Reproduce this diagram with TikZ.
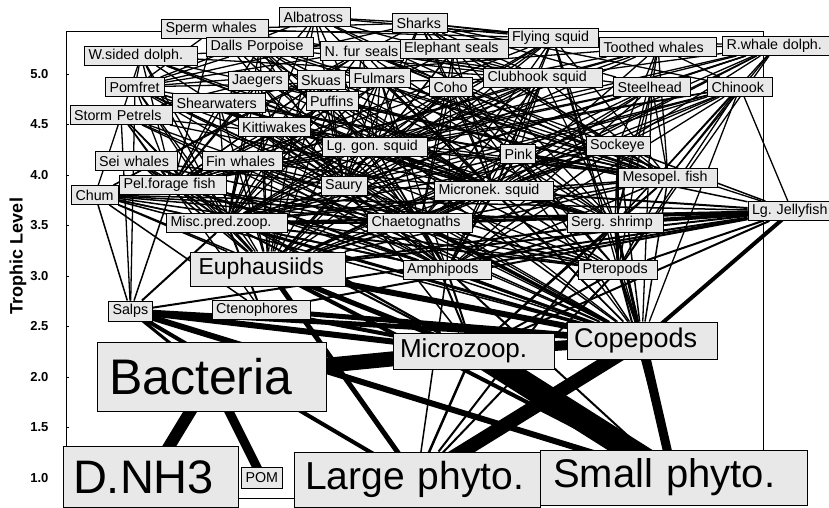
\documentclass[tikz,border=0pt]{standalone}
\usepackage{fontspec}
\setmainfont{Liberation Sans}
\frenchspacing

\pgfdeclarelayer{bg}
\pgfsetlayers{bg,main}

\begin{document}
\begin{tikzpicture}[x=1pt, y=-1pt,
box/.style={rectangle, draw=black, line width=0.9pt, fill=black!9, inner ysep=1pt},
sp/.style={box, text width=#1pt, inner xsep=4pt, minimum height=19pt, font=\fontsize{14.3}{16}\selectfont},
big/.style={box, text width=#1pt},
ticklab/.style={anchor=east, font=\bfseries\fontsize{13}{15}\selectfont},
toplink/.style={line width=1.3pt},
midlink/.style={line width=1.5pt},
lowlink/.style={line width=2pt}]

\useasboundingbox (0,0) rectangle (829,508);

% axis
\node[rotate=90, font=\bfseries\fontsize{18}{20}\selectfont] (ylab) at (18,256) {Trophic Level};
\node[ticklab] (t50) at (52,74) {5.0};
\node[ticklab] (t45) at (52,124.5) {4.5};
\node[ticklab] (t40) at (52,175) {4.0};
\node[ticklab] (t35) at (52,225.5) {3.5};
\node[ticklab] (t30) at (52,276) {3.0};
\node[ticklab] (t25) at (52,326.5) {2.5};
\node[ticklab] (t20) at (52,377) {2.0};
\node[ticklab] (t15) at (52,427.5) {1.5};
\node[ticklab] (t10) at (52,478) {1.0};

% top predators
\node[sp=63] (alb) at (315,17) {Albatross};
\node[sp=99] (sperm) at (215,29) {Sperm whales};
\node[sp=47] (sharks) at (420,23) {Sharks};
\node[sp=82] (fsq) at (553,38) {Flying squid};
\node[sp=105] (wsd) at (141,56) {W.sided dolph.};
\node[sp=99] (dalls) at (260,47) {Dalls Porpoise};
\node[sp=75] (nfur) at (362,51) {N. fur seals};
\node[sp=100] (eseal) at (454,49) {Elephant seals};
\node[sp=109] (tooth) at (658,47) {Toothed whales};
\node[sp=99] (rwd) at (776,46) {R.whale dolph.};
\node[sp=51] (pomf) at (135,87) {Pomfret};
\node[sp=52] (jaeg) at (258,81) {Jaegers};
\node[sp=40] (skua) at (321,80) {Skuas};
\node[sp=53] (fulm) at (380,78) {Fulmars};
\node[sp=35] (coho) at (451,87) {Coho};
\node[sp=111] (club) at (543,78) {Clubhook squid};
\node[sp=69] (steel) at (652,87) {Steelhead};
\node[sp=57] (chin) at (740,87) {Chinook};
\node[sp=85] (shear) at (219,103) {Shearwaters};
\node[sp=44] (puff) at (332,101) {Puffins};
\node[sp=94] (storm) at (121,115) {Storm Petrels};
\node[sp=64] (kitti) at (274,127) {Kittiwakes};

% middle
\node[sp=74] (sei) at (136,161) {Sei whales};
\node[sp=72] (fin) at (242,161) {Fin whales};
\node[sp=97] (lgsq) at (375,147) {Lg. gon. squid};
\node[sp=27] (pink) at (518,154) {Pink};
\node[sp=56] (sock) at (618,146) {Sockeye};
\node[sp=39] (chum) at (95,195) {Chum};
\node[sp=99] (pel) at (173,185) {Pel.forage fish};
\node[sp=38] (saury) at (344,186) {Saury};
\node[sp=111] (micsq) at (494,191) {Micronek. squid};
\node[sp=91] (meso) at (668,178) {Mesopel. fish};
\node[sp=113] (misc) at (227,223) {Misc.pred.zoop.};
\node[sp=97] (chaet) at (420,223) {Chaetognaths};
\node[sp=88] (serg) at (615,223) {Serg. shrimp};
\node[sp=80] (jelly) at (792,211) {Lg. Jellyfish};
\node[sp=80] (amph) at (447,270) {Amphipods};
\node[sp=71] (pter) at (618,270) {Pteropods};
\node[sp=36, minimum height=20pt] (salps) at (130.5,311) {Salps};
\node[sp=90] (cteno) at (261,310) {Ctenophores};
\node[big=139, inner xsep=8pt, minimum height=34pt, font=\fontsize{23}{26}\selectfont] (euph) at (268,269) {Euphausiids};

% bottom
\node[big=147, inner xsep=7pt, minimum height=36pt, font=\fontsize{26}{29}\selectfont] (micro) at (473.5,351) {Microzoop.};
\node[big=136, inner xsep=7pt, minimum height=37pt, font=\fontsize{27}{30}\selectfont] (cope) at (642,340.5) {Copepods};
\node[big=205, inner xsep=12pt, minimum height=69pt, font=\fontsize{50}{54}\selectfont] (bact) at (211.5,376.5) {Bacteria};
\node[big=155, inner xsep=10pt, minimum height=61pt, font=\fontsize{47}{50}\selectfont] (dnh3) at (150.5,477) {D.NH3};
\node[sp=33, minimum height=21pt] (pom) at (262,477.5) {POM};
\node[big=224, inner xsep=11pt, minimum height=55pt, font=\fontsize{39}{42}\selectfont] (lphy) at (417,479.5) {Large phyto.};
\node[big=241, inner xsep=13pt, minimum height=55pt, font=\fontsize{40}{43}\selectfont] (sphy) at (673.5,477.5) {Small phyto.};

\begin{pgfonlayer}{bg}
\draw[line width=1pt] (66,32) rectangle (763,498);
\draw[line width=0.8pt] (66,74) -- (69,74) (66,124.5) -- (69,124.5) (66,175) -- (69,175)
  (66,225.5) -- (69,225.5) (66,276) -- (69,276) (66,326.5) -- (69,326.5)
  (66,377) -- (69,377) (66,427.5) -- (69,427.5) (66,478) -- (69,478);

% top predators and their prey
\path[toplink] (alb) edge (fsq) edge (club) edge (lgsq) edge (micsq) edge (saury) edge (pel) edge (meso) edge (euph) edge (misc) edge (sharks) edge (pomf) edge (coho);
\path[toplink] (sperm) edge (club) edge (lgsq) edge (micsq) edge (fsq) edge (meso) edge (pel) edge (chaet) edge (sharks) edge (saury) edge (pomf);
\path[toplink] (sharks) edge (fsq) edge (club) edge (saury) edge (pomf) edge (coho) edge (chin) edge (micsq) edge (lgsq) edge (pink) edge (sock) edge (meso) edge (chum) edge (steel) edge (eseal) edge (tooth);
\path[toplink] (wsd) edge (club) edge (fsq) edge (lgsq) edge (micsq) edge (saury) edge (pel) edge (meso) edge (pomf) edge (misc) edge (chum) edge (euph) edge (serg);
\path[toplink] (dalls) edge (club) edge (fsq) edge (lgsq) edge (micsq) edge (saury) edge (pel) edge (meso) edge (serg) edge (euph) edge (pomf) edge (chaet) edge (misc);
\path[toplink] (nfur) edge (club) edge (fsq) edge (lgsq) edge (micsq) edge (saury) edge (pel) edge (meso) edge (pomf) edge (coho) edge (pink) edge (sock) edge (chum) edge (misc) edge (steel);
\path[toplink] (eseal) edge (club) edge (lgsq) edge (micsq) edge (meso) edge (pel) edge (chaet) edge (serg) edge (fsq) edge (coho) edge (saury) edge (sharks);
\path[toplink] (fsq) edge (micsq) edge (saury) edge (pel) edge (meso) edge (serg) edge (euph) edge (amph) edge (misc) edge (chaet) edge (pter) edge (cope) edge (lgsq);
\path[toplink] (tooth) edge (club) edge (lgsq) edge (micsq) edge (fsq) edge (meso) edge (pel) edge (saury) edge (coho) edge (chin) edge (steel) edge (sock) edge (pomf) edge (serg);
\path[toplink] (rwd) edge (club) edge (lgsq) edge (micsq) edge (fsq) edge (meso) edge (pel) edge (saury) edge (serg) edge (misc) edge (chaet) edge (euph) edge (steel) edge (sock) edge (pter) edge (tooth);
\path[toplink] (pomf) edge (micsq) edge (saury) edge (pel) edge (meso) edge (euph) edge (amph) edge (misc) edge (chaet) edge (serg) edge (pter) edge (cope) edge (salps);
\path[toplink] (jaeg) edge (pel) edge (saury) edge (micsq) edge (euph) edge (meso) edge (amph) edge (misc) edge (shear) edge (storm) edge (kitti);
\path[toplink] (skua) edge (pel) edge (saury) edge (micsq) edge (meso) edge (euph) edge (misc) edge (kitti) edge (puff) edge (shear);
\path[toplink] (fulm) edge (micsq) edge (pel) edge (saury) edge (meso) edge (euph) edge (amph) edge (misc) edge (chaet) edge (serg) edge (jelly) edge (cope) edge (lgsq);
\path[toplink] (coho) edge (micsq) edge (pel) edge (saury) edge (meso) edge (euph) edge (amph) edge (misc) edge (serg) edge (chaet) edge (cope) edge (pter) edge (lgsq);
\path[toplink] (club) edge (micsq) edge (meso) edge (pel) edge (saury) edge (serg) edge (euph) edge (misc) edge (chaet) edge (amph) edge (lgsq) edge (pomf) edge (pink);
\path[toplink] (steel) edge (micsq) edge (pel) edge (meso) edge (serg) edge (euph) edge (amph) edge (misc) edge (chaet) edge (pter) edge (cope) edge (lgsq) edge (saury);
\path[toplink] (chin) edge (micsq) edge (pel) edge (meso) edge (serg) edge (euph) edge (amph) edge (misc) edge (saury) edge (sock) edge (pink) edge (pter) edge (cope) edge (lgsq) edge (jelly);
\path[toplink] (shear) edge (pel) edge (saury) edge (micsq) edge (meso) edge (euph) edge (amph) edge (misc) edge (chaet) edge (cope) edge (serg) edge (lgsq);
\path[toplink] (puff) edge (pel) edge (saury) edge (micsq) edge (euph) edge (amph) edge (misc) edge (cope) edge (meso) edge (chaet);
\path[toplink] (storm) edge (pel) edge (meso) edge (euph) edge (amph) edge (misc) edge (cope) edge (chaet) edge (salps) edge (cteno) edge (micsq);
\path[toplink] (kitti) edge (pel) edge (saury) edge (micsq) edge (meso) edge (euph) edge (amph) edge (misc) edge (cope) edge (chaet) edge (lgsq);

% fish, squid and whales near level 4
\path[midlink] (sei) edge (euph) edge (cope) edge (amph) edge (pel) edge (saury) edge (misc) edge (micro) edge (chaet);
\path[midlink] (fin) edge (euph) edge (cope) edge (amph) edge (pel) edge (saury) edge (micsq) edge (misc) edge (chaet);
\path[midlink] (lgsq) edge (micsq) edge (meso) edge (pel) edge (saury) edge (serg) edge (euph) edge (misc) edge (chaet) edge (amph) edge (pter) edge (cope);
\path[midlink] (pink) edge (euph) edge (amph) edge (cope) edge (misc) edge (chaet) edge (pter) edge (meso) edge (micsq) edge (serg) edge (jelly);
\path[midlink] (sock) edge (euph) edge (amph) edge (cope) edge (misc) edge (chaet) edge (pter) edge (meso) edge (serg) edge (jelly) edge (micsq);
\path[midlink] (chum) edge (euph) edge (amph) edge (cope) edge (misc) edge (chaet) edge (pter) edge (salps) edge (cteno) edge (jelly) edge (serg) edge (micro);
\path[midlink] (pel) edge (euph) edge (amph) edge (cope) edge (misc) edge (chaet) edge (pter) edge (micro) edge (salps);
\path[midlink] (saury) edge (euph) edge (amph) edge (cope) edge (misc) edge (chaet) edge (pter) edge (micro);
\path[midlink] (micsq) edge (euph) edge (amph) edge (cope) edge (misc) edge (chaet) edge (serg) edge (pter) edge (meso) edge (saury);
\path[midlink] (meso) edge (euph) edge (amph) edge (cope) edge (misc) edge (chaet) edge (serg) edge (pter) edge (micro);

% predatory zooplankton
\path[lowlink] (misc) edge (euph) edge (amph) edge (micro) edge (pter) edge (chaet) edge (salps) edge (cteno);
\path[lowlink] (chaet) edge (euph) edge (amph) edge (pter);
\path[lowlink] (serg) edge (euph) edge (amph) edge (pter) edge (lphy) edge (sphy);
\path[lowlink] (jelly) edge (pter) edge (euph) edge (amph) edge (micro) edge (micsq) edge (salps) edge (cteno);
\draw[line width=4pt] (jelly.center) -- (serg.center);
\draw[line width=3pt] (jelly.center) -- (chaet.center);
\draw[line width=2.5pt] (jelly.center) -- (misc.center);

% grazers
\draw[line width=3pt] (misc.center) -- (cope.center);
\draw[line width=3pt] (chaet.center) -- (cope.center);
\draw[line width=2pt] (chaet.center) -- (micro.center);
\draw[line width=3pt] (serg.center) -- (cope.center);
\draw[line width=2pt] (serg.center) -- (micro.center);
\draw[line width=4pt] (jelly.center) -- (cope.center);
\draw[line width=6pt] (euph.center) -- (cope.center);
\draw[line width=5pt] (euph.center) -- (micro.center);
\draw[line width=5pt] (euph.center) -- (lphy.center);
\draw[line width=4pt] (euph.center) -- (sphy.center);
\draw[line width=3pt] (amph.center) -- (cope.center);
\draw[line width=2pt] (amph.center) -- (micro.center);
\draw[line width=1.5pt] (amph.center) -- (lphy.center);
\draw[line width=2pt] (amph.center) -- (sphy.center);
\draw[line width=2.5pt] (pter.center) -- (cope.center);
\draw[line width=2pt] (pter.center) -- (micro.center);
\draw[line width=2pt] (pter.center) -- (lphy.center);
\draw[line width=2pt] (pter.center) -- (sphy.center);
\draw[line width=6pt] (salps.center) -- (micro.center);
\draw[line width=4pt] (salps.center) -- (lphy.center);
\draw[line width=6pt] (salps.center) -- (sphy.center);
\draw[line width=3pt] (salps.center) -- (bact.center);
\draw[line width=5pt] (salps.center) -- (cope.center);
\draw[line width=5pt] (cteno.center) -- (cope.center);
\draw[line width=4pt] (cteno.center) -- (micro.center);

% microbial loop
\draw[line width=10pt] (cope.center) -- (micro.center);
\draw[line width=14pt] (cope.center) -- (lphy.center);
\draw[line width=9pt] (cope.center) -- (sphy.center);
\draw[line width=3pt] (cope.center) -- (bact.center);
\draw[line width=15pt] (micro.center) -- (bact.center);
\draw[line width=24pt] (micro.center) -- (sphy.center);
\draw[line width=2.5pt] (micro.center) -- (lphy.center);
\draw[line width=12pt] (bact.center) -- (dnh3.center);
\draw[line width=9pt] (bact.center) -- (pom.center);
\end{pgfonlayer}
\end{tikzpicture}
\end{document}
